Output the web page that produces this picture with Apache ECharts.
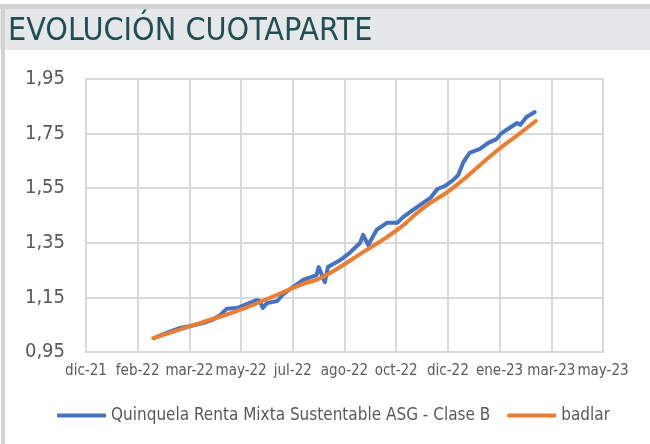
<!DOCTYPE html>
<html>
<head>
<meta charset="utf-8">
<script src="https://cdn.jsdelivr.net/npm/echarts@6/dist/echarts.min.js"></script>
<style>
  html, body { margin: 0; padding: 0; background: #fff; }
  #main { width: 650px; height: 444px; }
</style>
</head>
<body>
<div id="main"></div>
<script>
// eje x: días desde 20-dic-21, una marca cada 50 días
var tickLabels = ['dic-21', 'feb-22', 'mar-22', 'may-22', 'jul-22', 'ago-22', 'oct-22', 'dic-22', 'ene-23', 'mar-23', 'may-23'];

var fundDays = [66, 78, 91, 101, 113, 122, 130, 136, 146, 156, 165, 168, 171, 175, 185, 190, 200, 210, 223, 225, 231, 234, 246, 255, 265, 268, 273, 281, 291, 301, 307, 316, 326, 333, 340, 347, 355, 360, 365, 371, 381, 389, 397, 402, 408, 417, 420, 426, 434];
var fundValues = [1.001, 1.020, 1.038, 1.045, 1.056, 1.067, 1.086, 1.108, 1.111, 1.126, 1.140, 1.137, 1.111, 1.129, 1.137, 1.159, 1.188, 1.214, 1.232, 1.261, 1.206, 1.261, 1.287, 1.313, 1.349, 1.379, 1.342, 1.397, 1.423, 1.423, 1.445, 1.470, 1.496, 1.514, 1.547, 1.558, 1.580, 1.598, 1.646, 1.679, 1.694, 1.716, 1.730, 1.752, 1.767, 1.789, 1.782, 1.811, 1.829];

var badlarDays = [65, 110, 149, 207, 229, 268, 301, 326, 355, 397, 420, 435];
var badlarValues = [1.001, 1.056, 1.104, 1.195, 1.225, 1.316, 1.397, 1.477, 1.551, 1.686, 1.752, 1.796];

function pairs(xs, ys) {
    return xs.map(function (x, i) { return [x, ys[i]]; });
}

var myChart = echarts.init(document.getElementById('main'));
var labelFont = '"DejaVu Sans Condensed", "DejaVu Sans", sans-serif';

var option = {
    animation: false,
    backgroundColor: '#ffffff',
    graphic: [
        { type: 'rect', shape: { x: 0, y: 4, width: 650, height: 5 }, style: { fill: '#d3d3d3' }, silent: true },
        { type: 'rect', shape: { x: 0, y: 9, width: 650, height: 41 }, style: { fill: '#e6e7e9' }, silent: true },
        { type: 'rect', shape: { x: 1, y: 4, width: 4, height: 440 }, style: { fill: '#d3d3d3' }, silent: true }
    ],
    title: {
        text: 'EVOLUCIÓN CUOTAPARTE',
        left: 3,
        top: 11,
        textStyle: {
            fontFamily: labelFont,
            fontWeight: 'normal',
            fontSize: 32,
            color: '#1f4f52'
        }
    },
    legend: {
        left: 52,
        top: 402,
        icon: 'roundRect',
        itemWidth: 49,
        itemHeight: 4,
        itemGap: 17,
        textStyle: { fontFamily: labelFont, fontSize: 17, color: '#595959' },
        data: ['Quinquela Renta Mixta Sustentable ASG - Clase B', 'badlar']
    },
    grid: {
        left: 86,
        right: 47,
        top: 79,
        bottom: 92,
        outerBoundsMode: 'none',
        show: true,
        borderColor: '#d9d9d9',
        borderWidth: 2
    },
    xAxis: {
        type: 'value',
        min: 0,
        max: 500,
        interval: 50,
        axisLine: { show: false },
        axisTick: { show: false },
        splitLine: { lineStyle: { color: '#d9d9d9', width: 2 } },
        axisLabel: {
            margin: 12,
            fontFamily: labelFont,
            fontSize: 15,
            color: '#595959',
            formatter: function (v) { return tickLabels[Math.round(v / 50)]; }
        }
    },
    yAxis: {
        type: 'value',
        min: 0.95,
        max: 1.95,
        interval: 0.2,
        axisLine: { show: false },
        axisTick: { show: false },
        splitLine: { lineStyle: { color: '#d9d9d9', width: 2 } },
        axisLabel: {
            margin: 21,
            fontFamily: labelFont,
            fontSize: 20,
            color: '#595959',
            formatter: function (v) { return v.toFixed(2).replace('.', ','); }
        }
    },
    series: [
        {
            name: 'Quinquela Renta Mixta Sustentable ASG - Clase B',
            type: 'line',
            symbol: 'none',
            data: pairs(fundDays, fundValues),
            lineStyle: { color: '#4472c4', width: 4, cap: 'round', join: 'round' },
            itemStyle: { color: '#4472c4' },
            z: 2
        },
        {
            name: 'badlar',
            type: 'line',
            symbol: 'none',
            smooth: true,
            data: pairs(badlarDays, badlarValues),
            lineStyle: { color: '#ed7d31', width: 4, cap: 'round' },
            itemStyle: { color: '#ed7d31' },
            z: 3
        }
    ]
};

myChart.setOption(option);
</script>
</body>
</html>
